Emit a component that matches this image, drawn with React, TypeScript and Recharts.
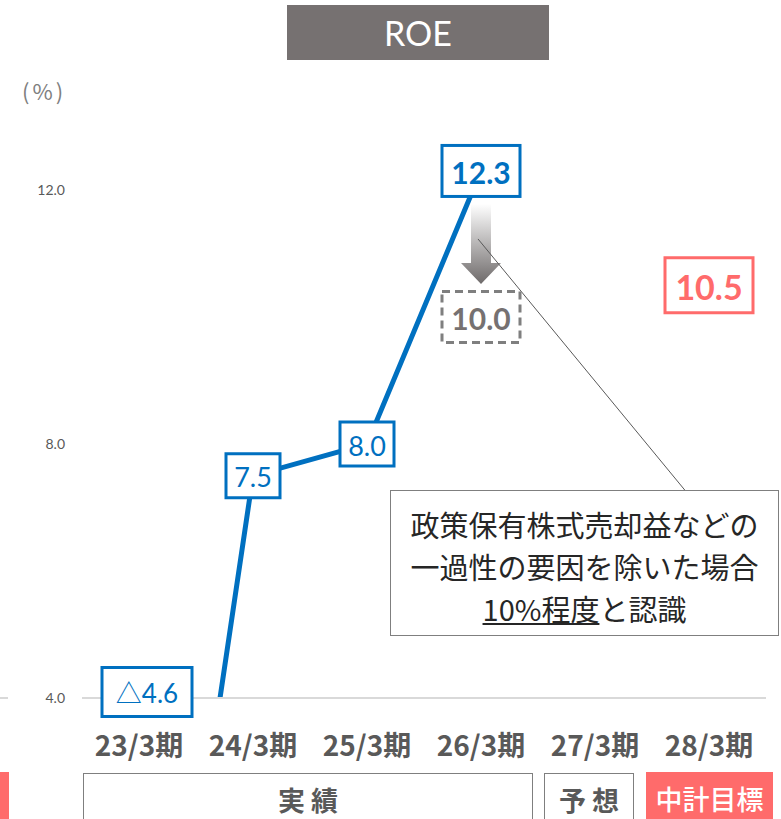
import { LineChart, Line, XAxis, YAxis, ReferenceDot } from 'recharts';

const CATEGORIES = ['23/3期', '24/3期', '25/3期', '26/3期', '27/3期', '28/3期'];
const ROE_ACTUAL: (number | null)[] = [-4.6, 7.5, 8.0, 12.3, null, null];
const ROE_EXCL_ONE_OFF = 10.0; // 26/3期, excluding one-off gains
const ROE_TARGET = 10.5; // 28/3期 mid-term plan target
const Y_TICKS = [4, 8, 12];
const Y_MIN = 4;
const Y_MAX = 14;

const BLUE = '#0070c0';
const RED = '#ff6b6b';
const GRAY = '#7f7f7f';
const NUM_FONT = 'Lato, "Noto Sans CJK JP", sans-serif';
const JP_FONT = '"Noto Sans CJK JP", "Noto Sans", sans-serif';

const chartData = CATEGORIES.map((name, i) => ({ name, roe: ROE_ACTUAL[i] }));

const formatValue = (v: number) => (v < 0 ? `△${Math.abs(v).toFixed(1)}` : v.toFixed(1));

interface BoxOpts {
  w: number;
  h: number;
  color: string;
  textColor?: string;
  fontSize: number;
  bold?: boolean;
  dashed?: boolean;
  dx?: number;
  dy?: number;
}

const boxShape = (text: string, o: BoxOpts) => (props: any) => {
  const cx = props.cx + (o.dx ?? 0);
  const cy = props.cy + (o.dy ?? 0);
  return (
    <g>
      <rect
        x={cx - o.w / 2}
        y={cy - o.h / 2}
        width={o.w}
        height={o.h}
        fill="#fff"
        stroke={o.color}
        strokeWidth={3}
        strokeDasharray={o.dashed ? '8 5' : undefined}
      />
      <text
        x={cx}
        y={cy + 1}
        textAnchor="middle"
        dominantBaseline="central"
        fill={o.textColor ?? o.color}
        fontSize={o.fontSize}
        fontWeight={o.bold ? 700 : 400}
        fontFamily={NUM_FONT}
      >
        {text}
      </text>
    </g>
  );
};

// gray gradient arrow from 12.3 down to the adjusted value, plus the callout leader line
const arrowShape = (props: any) => {
  const { cx, cy } = props;
  return (
    <g>
      <defs>
        <linearGradient id="arrowGrad" x1="0" y1="0" x2="0" y2="1">
          <stop offset="0%" stopColor="#ffffff" />
          <stop offset="100%" stopColor="#6e6a6a" />
        </linearGradient>
      </defs>
      <path
        d={`M${cx - 10},${cy - 40} L${cx + 10},${cy - 40} L${cx + 10},${cy + 19} L${cx + 20},${cy + 19} L${cx},${cy + 40} L${cx - 20},${cy + 19} L${cx - 10},${cy + 19} Z`}
        fill="url(#arrowGrad)"
      />
      <line x1={cx - 3} y1={cy - 5} x2={cx + 207} y2={cy + 250} stroke="#595959" strokeWidth={1} />
    </g>
  );
};

const labelOpts = (v: number): BoxOpts => {
  if (v < Y_MIN) return { w: 90, h: 49, color: BLUE, fontSize: 26, dx: 8, dy: -6 };
  if (v >= 12) return { w: 78, h: 51, color: BLUE, fontSize: 30, bold: true };
  return { w: 54, h: 44, color: BLUE, fontSize: 27 };
};

const App = () => {
  return (
    <div style={{ position: 'absolute', left: 0, top: 0, width: 781, height: 819, background: '#fff', overflow: 'hidden' }}>
      <LineChart width={781} height={819} data={chartData} margin={{ top: 63, right: 15, left: 0, bottom: 0 }}>
        <XAxis
          dataKey="name"
          scale="point"
          padding={{ left: 57, right: 57 }}
          height={121}
          axisLine={{ stroke: '#d9d9d9', strokeWidth: 2 }}
          tickLine={false}
          tickSize={0}
          tickMargin={38}
          tick={{ fill: '#595959', fontSize: 28, fontWeight: 700, fontFamily: JP_FONT }}
          interval={0}
        />
        <YAxis
          width={82}
          domain={[Y_MIN, Y_MAX]}
          ticks={Y_TICKS}
          allowDataOverflow
          axisLine={false}
          tickLine={false}
          tickSize={0}
          tickMargin={17}
          tickFormatter={(v: number) => v.toFixed(1)}
          tick={{ fill: '#595959', fontSize: 14, fontFamily: NUM_FONT }}
        />
        <Line
          dataKey="roe"
          stroke={BLUE}
          strokeWidth={5}
          dot={false}
          connectNulls={false}
          isAnimationActive={false}
        />
        <ReferenceDot x={CATEGORIES[3]} y={(ROE_ACTUAL[3] as number + ROE_EXCL_ONE_OFF) / 2} r={0} ifOverflow="visible" shape={arrowShape} />
        {ROE_ACTUAL.map((v, i) =>
          v == null ? null : (
            <ReferenceDot
              key={CATEGORIES[i]}
              x={CATEGORIES[i]}
              y={Math.max(v, Y_MIN)}
              r={0}
              ifOverflow="visible"
              shape={boxShape(formatValue(v), labelOpts(v))}
            />
          )
        )}
        <ReferenceDot
          x={CATEGORIES[3]}
          y={ROE_EXCL_ONE_OFF}
          r={0}
          ifOverflow="visible"
          shape={boxShape(ROE_EXCL_ONE_OFF.toFixed(1), { w: 78, h: 51, color: GRAY, textColor: '#767171', fontSize: 30, bold: true, dashed: true })}
        />
        <ReferenceDot
          x={CATEGORIES[5]}
          y={ROE_TARGET}
          r={0}
          ifOverflow="visible"
          shape={boxShape(ROE_TARGET.toFixed(1), { w: 88, h: 55, color: RED, fontSize: 34, bold: true })}
        />
      </LineChart>

      {/* title */}
      <div style={{ position: 'absolute', left: 287, top: 5, width: 262, height: 55, background: '#767171', color: '#fff', fontFamily: 'Lato, sans-serif', fontSize: 34, display: 'flex', alignItems: 'center', justifyContent: 'center' }}>
        ROE
      </div>
      <div style={{ position: 'absolute', left: 22, top: 74, fontFamily: JP_FONT, fontSize: 22, color: GRAY, letterSpacing: 3 }}>(%)</div>

      {/* fragments of neighbouring chart on the left */}
      <div style={{ position: 'absolute', left: 0, top: 697, width: 8, height: 2, background: '#d9d9d9' }} />
      <div style={{ position: 'absolute', left: 0, top: 772, width: 9, height: 47, background: RED }} />

      {/* callout */}
      <div style={{ position: 'absolute', left: 390, top: 490, width: 389, height: 146, background: '#fff', border: `1.5px solid ${GRAY}`, fontFamily: JP_FONT, fontSize: 29, color: '#262626', textAlign: 'center', lineHeight: '42px', paddingTop: 12, boxSizing: 'border-box' }}>
        政策保有株式売却益などの<br />
        一過性の要因を除いた場合<br />
        <span style={{ textDecoration: 'underline' }}>10%程度</span>と認識
      </div>

      {/* period brackets */}
      <div style={{ position: 'absolute', left: 83, top: 773, width: 450, height: 60, border: `1.5px solid ${GRAY}`, boxSizing: 'border-box', fontFamily: JP_FONT, fontSize: 27, fontWeight: 700, color: '#595959', textAlign: 'center', paddingTop: 6 }}>
        実 績
      </div>
      <div style={{ position: 'absolute', left: 544, top: 773, width: 90, height: 60, border: `1.5px solid ${GRAY}`, boxSizing: 'border-box', fontFamily: JP_FONT, fontSize: 27, fontWeight: 700, color: '#595959', textAlign: 'center', paddingTop: 6 }}>
        予 想
      </div>
      <div style={{ position: 'absolute', left: 646, top: 772, width: 127, height: 60, background: RED, fontFamily: JP_FONT, fontSize: 27, fontWeight: 500, color: '#fff', textAlign: 'center', paddingTop: 7, boxSizing: 'border-box' }}>
        中計目標
      </div>
    </div>
  );
};

export default App;
